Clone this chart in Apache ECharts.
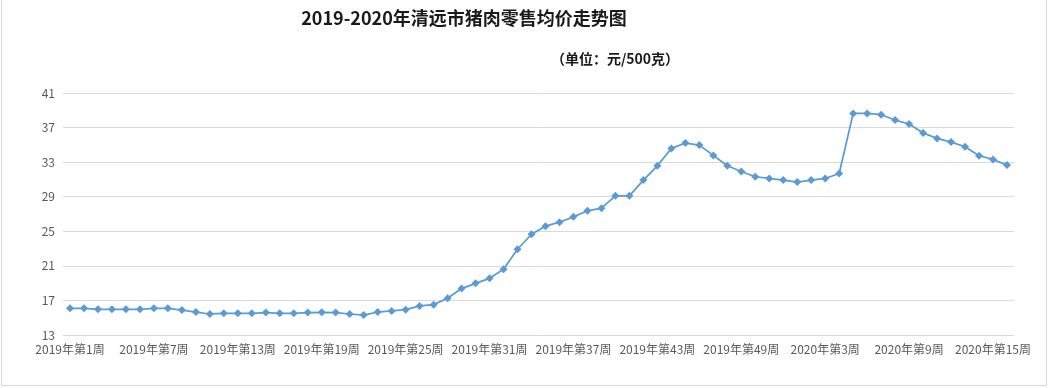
<!DOCTYPE html>
<html><head><meta charset="utf-8">
<script src="https://cdn.jsdelivr.net/npm/echarts@6/dist/echarts.min.js"></script>
<style>html,body{margin:0;padding:0;background:#fff}#c{width:1048px;height:388px}</style>
</head><body><div id="c"></div>
<script>
const weeks2019 = [];
for (let w = 1; w <= 52; w++) weeks2019.push('2019年第' + w + '周');
const weeks2020 = [];
for (let w = 1; w <= 16; w++) weeks2020.push('2020年第' + w + '周');
const categories = weeks2019.concat(weeks2020);

const prices = [
  16.09, 16.09, 15.97, 15.97, 15.97, 15.97, 16.09, 16.09, 15.89, 15.66,
  15.43, 15.51, 15.51, 15.51, 15.59, 15.51, 15.51, 15.59, 15.63, 15.59,
  15.43, 15.31, 15.66, 15.78, 15.93, 16.36, 16.51, 17.25, 18.37, 18.98,
  19.56, 20.61, 22.92, 24.66, 25.59, 26.05, 26.67, 27.37, 27.67, 29.10,
  29.10, 30.92, 32.58, 34.59, 35.21, 34.97, 33.78, 32.58, 31.92, 31.31,
  31.11, 30.92, 30.69, 30.92, 31.11, 31.69, 38.64, 38.64, 38.49, 37.87,
  37.41, 36.37, 35.75, 35.32, 34.78, 33.74, 33.31, 32.66
];

const yTicks = { min: 13, max: 41, interval: 4 };
const titleText = '2019-2020年清远市猪肉零售均价走势图';
const unitText = '（单位：元/500克）';

const chart = echarts.init(document.getElementById('c'), null, { renderer: 'canvas' });
chart.setOption({
  backgroundColor: '#fff',
  animation: false,
  title: [
    { text: titleText, left: 459, top: 4, textAlign: 'center',
      textStyle: { fontFamily: 'Noto Sans CJK SC', fontSize: 18, fontWeight: 'bold', color: '#1a1a1a' } },
    { text: unitText, left: 610, top: 47, textAlign: 'center',
      textStyle: { fontFamily: 'Noto Sans CJK SC', fontSize: 14, fontWeight: 'bold', color: '#1a1a1a' } }
  ],
  graphic: [
    { type: 'rect', shape: { x: 1.5, y: -5, width: 1045, height: 390.5 },
      style: { fill: 'none', stroke: '#d9d9d9', lineWidth: 1 }, silent: true }
  ],
  grid: { left: 63, right: 34, top: 93, bottom: 53, containLabel: false },
  xAxis: {
    type: 'category',
    data: categories,
    boundaryGap: true,
    axisLine: { show: true, lineStyle: { color: '#d9d9d9', width: 1 } },
    axisTick: { show: false },
    axisLabel: { interval: 5, color: '#595959', fontSize: 12, margin: 8,
      fontFamily: 'Noto Sans CJK SC' },
    splitLine: { show: false }
  },
  yAxis: {
    type: 'value',
    min: yTicks.min, max: yTicks.max, interval: yTicks.interval,
    axisLine: { show: false },
    axisTick: { show: false },
    axisLabel: { color: '#595959', fontSize: 12, margin: 8, fontFamily: 'Noto Sans CJK SC' },
    splitLine: { lineStyle: { color: '#d9d9d9', width: 1 } }
  },
  series: [{
    type: 'line',
    data: prices,
    symbol: 'diamond',
    symbolSize: 8,
    lineStyle: { color: '#5B9BD5', width: 1.75 },
    itemStyle: { color: '#5B9BD5' }
  }]
});
</script>
</body></html>
